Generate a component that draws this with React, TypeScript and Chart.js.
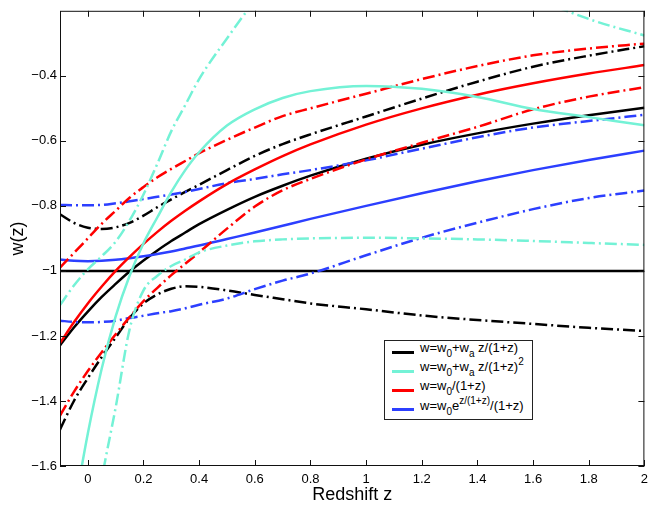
import React, { useEffect, useRef } from 'react';
import { Chart, registerables } from 'chart.js';

Chart.register(...registerables);

// redshift samples (x) shared by every curve
const Z = [-0.1, -0.05, 0, 0.05, 0.1, 0.15, 0.2, 0.25, 0.3, 0.35, 0.4, 0.5, 0.6, 0.7, 0.8, 1.0, 1.2, 1.4, 1.6, 1.8, 2.0];

// w = w0 + wa z/(1+z)
const cplMid = [-1.229, -1.174, -1.125, -1.08, -1.04, -1.002, -0.968, -0.937, -0.908, -0.882, -0.856, -0.812, -0.772, -0.738, -0.707, -0.655, -0.612, -0.577, -0.547, -0.521, -0.498];
const cplHigh = [-0.826, -0.852, -0.867, -0.871, -0.866, -0.852, -0.83, -0.804, -0.78, -0.757, -0.735, -0.69, -0.646, -0.61, -0.58, -0.525, -0.47, -0.418, -0.372, -0.338, -0.309];
const cplLow = [-1.488, -1.4, -1.33, -1.265, -1.205, -1.145, -1.1, -1.072, -1.055, -1.047, -1.049, -1.06, -1.074, -1.087, -1.1, -1.118, -1.137, -1.151, -1.163, -1.175, -1.185];

// w = w0 + wa z/(1+z)^2
const sqMid = [-2.0, -1.74, -1.5, -1.3, -1.14, -1.015, -0.915, -0.835, -0.757, -0.69, -0.635, -0.553, -0.503, -0.468, -0.447, -0.431, -0.44, -0.465, -0.502, -0.527, -0.552];
const sqHigh = [-1.105, -1.045, -0.995, -0.955, -0.91, -0.845, -0.765, -0.67, -0.57, -0.49, -0.41, -0.285, -0.17, -0.08, -0.02, 0.03, 0.02, -0.05, -0.155, -0.225, -0.276];
const sqLow = [-2.55, -2.2, -1.9, -1.64, -1.42, -1.18, -1.06, -1.015, -0.985, -0.965, -0.943, -0.922, -0.909, -0.903, -0.9, -0.898, -0.9, -0.903, -0.908, -0.914, -0.92];

// w = w0/(1+z)
const invMid = [-1.222, -1.158, -1.1, -1.048, -1.0, -0.957, -0.917, -0.88, -0.846, -0.815, -0.786, -0.733, -0.688, -0.647, -0.611, -0.55, -0.5, -0.458, -0.423, -0.393, -0.367];
const invHigh = [-0.99, -0.945, -0.9, -0.855, -0.815, -0.775, -0.742, -0.712, -0.686, -0.662, -0.638, -0.597, -0.559, -0.524, -0.5, -0.455, -0.41, -0.37, -0.337, -0.316, -0.301];
const invLow = [-1.445, -1.372, -1.308, -1.25, -1.195, -1.142, -1.093, -1.052, -1.013, -0.978, -0.943, -0.87, -0.802, -0.752, -0.717, -0.657, -0.606, -0.557, -0.503, -0.464, -0.435];

// w = w0 e^{z/(1+z)}/(1+z)
const expMid = [-0.965, -0.969, -0.97, -0.969, -0.966, -0.961, -0.955, -0.948, -0.94, -0.931, -0.922, -0.902, -0.882, -0.861, -0.84, -0.8, -0.761, -0.724, -0.69, -0.659, -0.63];
const expHigh = [-0.797, -0.798, -0.798, -0.797, -0.792, -0.786, -0.779, -0.772, -0.765, -0.757, -0.748, -0.73, -0.717, -0.703, -0.69, -0.66, -0.624, -0.589, -0.559, -0.539, -0.52];
const expLow = [-1.153, -1.157, -1.158, -1.157, -1.153, -1.145, -1.138, -1.13, -1.124, -1.115, -1.104, -1.085, -1.056, -1.03, -1.008, -0.952, -0.898, -0.852, -0.81, -0.776, -0.753];

const LAMBDA_W = -1;

const X_TICKS = [0, 0.2, 0.4, 0.6, 0.8, 1, 1.2, 1.4, 1.6, 1.8, 2];
const Y_TICKS = [-1.6, -1.4, -1.2, -1, -0.8, -0.6, -0.4];

const BLACK = '#000000';
const CYAN = '#74f2d6';
const RED = '#ff0000';
const BLUE = '#2c3fff';
const FONT = "'Liberation Sans', Arial, sans-serif";
const DASH_DOT = [12, 4, 2, 4];

const pts = (ys: number[]) => Z.map((z, i) => ({ x: z, y: ys[i] }));

const curve = (ys: number[], color: string, dashed: boolean) => ({
  data: pts(ys),
  borderColor: color,
  borderWidth: 2.5,
  borderDash: dashed ? DASH_DOT : [],
  pointRadius: 0,
  cubicInterpolationMode: 'monotone' as const,
  fill: false,
});

// inward tick marks and box round the plot, like the original figure
const framePlugin = {
  id: 'frame',
  afterDraw(chart: any) {
    const { ctx, chartArea: a, scales } = chart;
    ctx.save();
    ctx.strokeStyle = '#111';
    ctx.lineWidth = 1;
    ctx.strokeRect(a.left + 0.5, a.top + 0.5, a.right - a.left - 1, a.bottom - a.top - 1);
    ctx.beginPath();
    X_TICKS.forEach((v) => {
      const px = Math.round(scales.x.getPixelForValue(v)) + 0.5;
      ctx.moveTo(px, a.bottom);
      ctx.lineTo(px, a.bottom - 6);
      ctx.moveTo(px, a.top);
      ctx.lineTo(px, a.top + 6);
    });
    Y_TICKS.forEach((v) => {
      const py = Math.round(scales.y.getPixelForValue(v)) + 0.5;
      ctx.moveTo(a.left, py);
      ctx.lineTo(a.left + 6, py);
      ctx.moveTo(a.right, py);
      ctx.lineTo(a.right - 6, py);
    });
    ctx.stroke();
    ctx.restore();
  },
};

const legendRows = [
  { color: BLACK, label: <>w=w<sub>0</sub>+w<sub>a</sub> z/(1+z)</> },
  { color: CYAN, label: <>w=w<sub>0</sub>+w<sub>a</sub> z/(1+z)<sup>2</sup></> },
  { color: RED, label: <>w=w<sub>0</sub>/(1+z)</> },
  { color: BLUE, label: <>w=w<sub>0</sub>e<sup>z/(1+z)</sup>/(1+z)</> },
];

export default function App() {
  const canvasRef = useRef<HTMLCanvasElement>(null);

  useEffect(() => {
    document.body.style.margin = '0';
    const ctx = canvasRef.current?.getContext('2d');
    let chart: Chart | undefined;
    if (ctx) {
      chart = new Chart(ctx, {
        type: 'line',
        data: {
          datasets: [
            curve(sqHigh, CYAN, true),
            curve(sqLow, CYAN, true),
            curve(sqMid, CYAN, false),
            curve(invHigh, RED, true),
            curve(invLow, RED, true),
            curve(invMid, RED, false),
            curve(expHigh, BLUE, true),
            curve(expLow, BLUE, true),
            curve(expMid, BLUE, false),
            curve(cplHigh, BLACK, true),
            curve(cplLow, BLACK, true),
            curve(cplMid, BLACK, false),
            {
              data: [{ x: Z[0], y: LAMBDA_W }, { x: Z[Z.length - 1], y: LAMBDA_W }],
              borderColor: BLACK,
              borderWidth: 2.5,
              pointRadius: 0,
              fill: false,
            },
          ] as any,
        },
        options: {
          responsive: false,
          animation: false,
          layout: { padding: { top: 4, right: 8, left: 0, bottom: 0 } },
          plugins: { legend: { display: false }, tooltip: { enabled: false } },
          scales: {
            x: {
              type: 'linear',
              min: -0.1,
              max: 2,
              grid: { display: false, drawTicks: false },
              border: { display: false },
              afterBuildTicks: (s: any) => { s.ticks = X_TICKS.map((v) => ({ value: v })); },
              afterFit: (s: any) => { s.height = 43; },
              ticks: {
                padding: 6,
                color: '#000',
                font: { family: FONT, size: 13 },
                callback: (v: any) => String(v).replace('-', '\u2212'),
              },
              title: {
                display: true,
                text: 'Redshift z',
                color: '#000',
                font: { family: FONT, size: 18 },
                padding: { top: 0, bottom: 3 },
              },
            },
            y: {
              type: 'linear',
              min: -1.6,
              max: -0.2,
              grid: { display: false, drawTicks: false },
              border: { display: false },
              afterBuildTicks: (s: any) => { s.ticks = Y_TICKS.map((v) => ({ value: v })); },
              afterFit: (s: any) => { s.width = 60; },
              ticks: {
                padding: 3,
                color: '#000',
                font: { family: FONT, size: 13 },
                callback: (v: any) => String(v).replace('-', '\u2212'),
              },
              title: {
                display: true,
                text: 'w(z)',
                color: '#000',
                font: { family: FONT, size: 18 },
                padding: { top: 7, bottom: 0 },
              },
            },
          },
        },
        plugins: [framePlugin],
      });
    }
    return () => {
      chart?.destroy();
    };
  }, []);

  return (
    <div style={{ position: 'relative', width: 654, height: 509, background: '#fff' }}>
      <canvas ref={canvasRef} width={654} height={509} />
      <div
        style={{
          position: 'absolute', left: 384, top: 340, width: 147, height: 78,
          border: '1px solid #222', background: '#fff', fontFamily: FONT, fontSize: 13, color: '#000',
        }}
      >
        {legendRows.map((r, i) => (
          <div key={i} style={{ position: 'absolute', left: 0, top: 11 + i * 19.2 - 10, height: 20, width: '100%' }}>
            <div style={{ position: 'absolute', left: 7, top: 8.5, width: 22, height: 3, background: r.color }} />
            <div style={{ position: 'absolute', left: 35, top: -1, lineHeight: '13px', whiteSpace: 'nowrap' }}>
              {r.label}
            </div>
          </div>
        ))}
      </div>
      <style>{`sub{font-size:10px;vertical-align:-5px;line-height:0} sup{font-size:10px;vertical-align:6px;line-height:0}`}</style>
    </div>
  );
}
